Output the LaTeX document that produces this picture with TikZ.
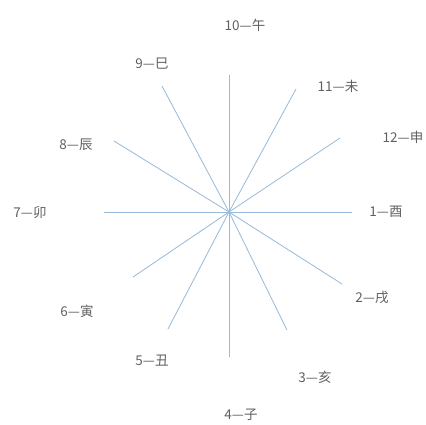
\documentclass[tikz,border=0pt]{standalone}
\usepackage{fontspec}
\newfontfamily\cjk{Noto Sans CJK SC}[Scale=1]
\begin{document}
\begin{tikzpicture}[x=1pt,y=-1pt,
  lbl/.style={font=\cjk\fontsize{13.5}{15}\selectfont, text=black!62, inner sep=0pt},
  ray/.style={draw={rgb,255:red,150;green,185;blue,220}, line width=0.8pt}]
\useasboundingbox (0,0) rectangle (426,424);
\fill[white] (0,0) rectangle (426,424);
\coordinate (c) at (229,212);
\coordinate (e1) at (352,212);
\coordinate (e2) at (342,284);
\coordinate (e3) at (287,330);
\coordinate (e4) at (229,357);
\coordinate (e5) at (168,329);
\coordinate (e6) at (133,277);
\coordinate (e7) at (104,212);
\coordinate (e8) at (114,141);
\coordinate (e9) at (162,86);
\coordinate (e10) at (229,75);
\coordinate (e11) at (296,89);
\coordinate (e12) at (340,138);
\foreach \i in {1,...,12} \draw[ray] (c) -- (e\i);
\node[lbl] (l10) at (245,25) {10—午};
\node[lbl] (l9) at (152,64) {9—巳};
\node[lbl] (l11) at (338,86) {11—未};
\node[lbl] (l12) at (403,137) {12—申};
\node[lbl] (l8) at (76,145) {8—辰};
\node[lbl] (l7) at (30,212) {7—卯};
\node[lbl] (l1) at (386,212) {1—酉};
\node[lbl] (l2) at (372,297) {2—戌};
\node[lbl] (l6) at (77,311) {6—寅};
\node[lbl] (l5) at (152,361) {5—丑};
\node[lbl] (l3) at (315,377) {3—亥};
\node[lbl] (l4) at (241,415) {4—子};
\end{tikzpicture}
\end{document}
